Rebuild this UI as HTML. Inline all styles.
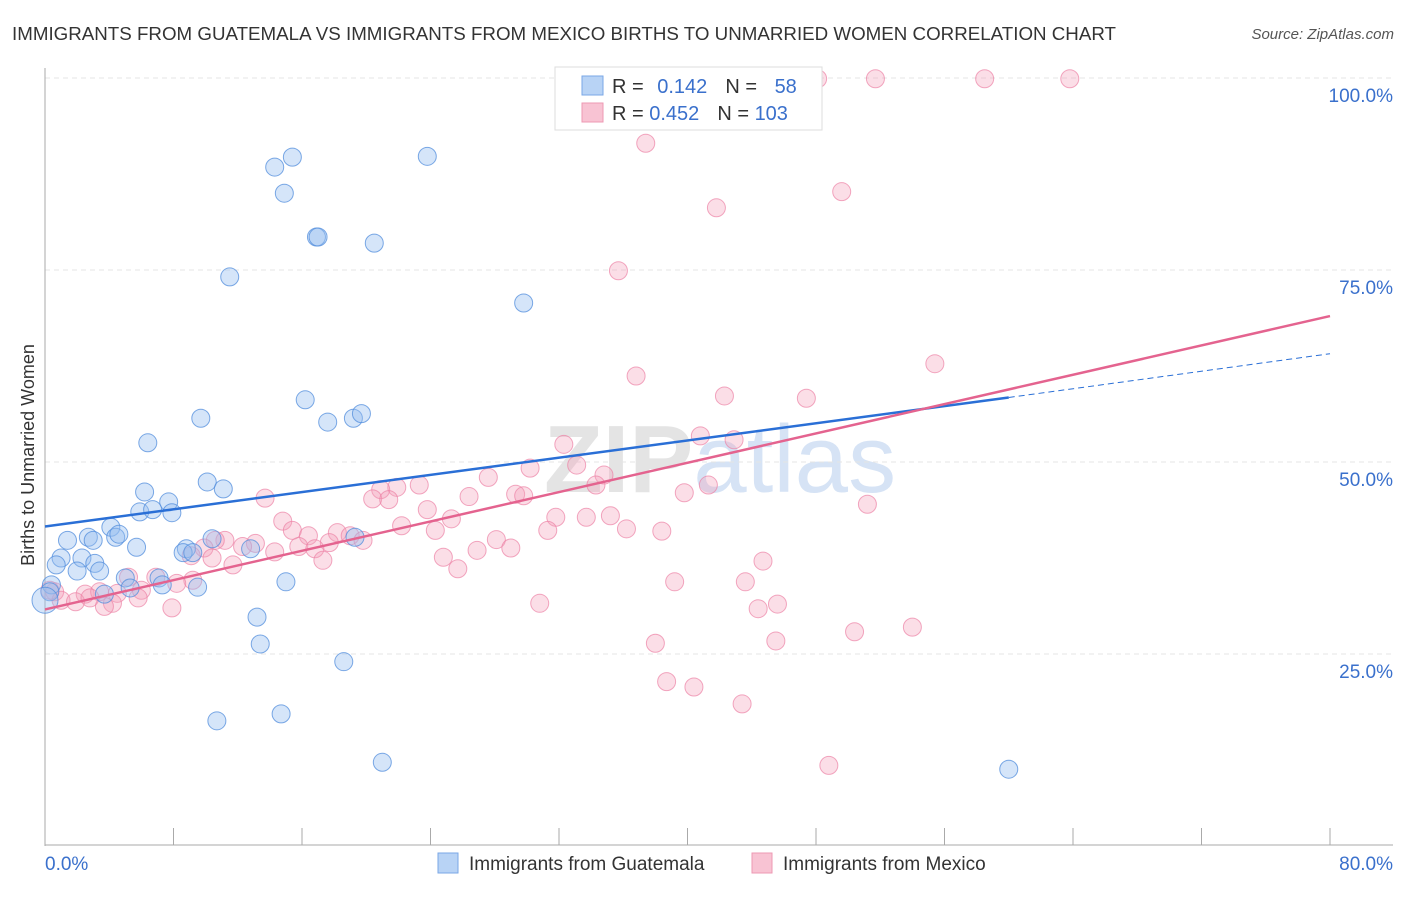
<!DOCTYPE html>
<html><head><meta charset="utf-8"><style>
body{margin:0;background:#fff;font-family:"Liberation Sans",sans-serif;}
svg text{font-family:"Liberation Sans",sans-serif;}
</style></head><body>
<svg id="chart" width="1406" height="892" xmlns="http://www.w3.org/2000/svg">
<text x="12" y="40" font-size="18.5" fill="#333" textLength="1104" lengthAdjust="spacingAndGlyphs">IMMIGRANTS FROM GUATEMALA VS IMMIGRANTS FROM MEXICO BIRTHS TO UNMARRIED WOMEN CORRELATION CHART</text>
<text x="1394" y="39" font-size="15" fill="#555" font-style="italic" text-anchor="end">Source: ZipAtlas.com</text>
<text transform="translate(34,455) rotate(-90)" font-size="18" fill="#333" text-anchor="middle">Births to Unmarried Women</text>
<text x="720" y="492" font-size="96" fill="#e4e4e4" font-weight="bold" text-anchor="middle">ZIP<tspan fill="#d6e3f5" font-weight="normal">atlas</tspan></text>
<g id="grid"></g><g id="pts"></g><g id="lines"></g>
<g>
<rect x="555" y="67" width="267" height="63" fill="#fff" stroke="#ddd"/>
<rect x="582" y="76" width="21" height="19" fill="#b8d3f5" stroke="#7aa7e6"/>
<rect x="582" y="103" width="21" height="19" fill="#f8c3d3" stroke="#ee98b3"/>
<text x="612" y="93" font-size="20" fill="#333">R = <tspan fill="#3a70cc" dx="8">0.142</tspan><tspan fill="#333" dx="18">N = </tspan><tspan fill="#3a70cc" dx="12">58</tspan></text>
<text x="612" y="120" font-size="20" fill="#333">R = <tspan fill="#3a70cc">0.452</tspan><tspan fill="#333" dx="18">N = </tspan><tspan fill="#3a70cc">103</tspan></text>
</g>
<g>
<rect x="438" y="853" width="20" height="20" fill="#b8d3f5" stroke="#7aa7e6"/>
<text x="469" y="870" font-size="19" fill="#333">Immigrants from Guatemala</text>
<rect x="752" y="853" width="20" height="20" fill="#f8c3d3" stroke="#ee98b3"/>
<text x="783" y="870" font-size="19" fill="#333">Immigrants from Mexico</text>
</g>
</svg>
<script>
const guatemalaX=[15.4,14.3,14.9,23.8,16.9,17.0,20.5,11.5,29.8,16.2,9.7,17.6,19.2,19.7,6.4,10.1,11.1,6.2,7.7,5.9,6.7,7.9,4.1,1.4,2.7,4.4,4.6,3.0,5.7,10.4,8.8,8.6,9.2,12.8,1.0,2.3,3.1,0.7,2.0,3.4,5.0,7.1,7.3,9.5,15.0,5.3,0.4,0.3,3.7,0,13.2,13.4,18.6,10.7,14.7,21.0,60.0,19.3];
const guatemalaY=[89.7,88.4,85.0,89.8,79.3,79.3,78.5,74.1,70.7,58.1,55.7,55.2,55.7,56.3,52.5,47.4,46.5,46.1,44.8,43.5,43.8,43.4,41.5,39.8,40.2,40.2,40.6,39.8,38.9,40.0,38.7,38.2,38.2,38.7,37.5,37.5,36.8,36.6,35.8,35.8,34.9,34.9,34.0,33.7,34.4,33.6,34.0,33.1,32.8,32.0,29.8,26.3,24.0,16.3,17.2,10.9,10.0,40.2];
const mexicoX=[48.1,51.7,58.5,63.8,37.4,49.6,41.8,35.7,55.4,36.8,42.3,47.4,32.3,40.8,42.9,33.1,30.2,34.8,27.6,34.3,41.3,39.8,23.3,21.9,20.9,26.4,29.3,29.8,20.4,21.4,13.7,51.2,23.8,25.3,31.8,33.7,35.2,14.8,22.2,24.3,31.3,36.2,38.4,15.4,16.4,18.2,19.0,19.8,17.7,28.1,11.2,10.6,13.1,12.3,15.8,16.8,29.0,14.3,26.9,9.9,9.1,10.4,24.8,17.3,11.7,25.7,44.7,5.2,6.9,9.2,8.2,39.2,43.6,6.0,0.6,2.5,3.4,4.5,1.0,1.9,2.8,4.2,5.8,3.7,7.9,30.8,44.4,45.6,0.3,54.0,50.4,38.0,45.5,38.7,40.4,43.4,48.8];
const mexicoY=[99.9,99.9,99.9,99.9,91.5,85.2,83.1,74.9,62.8,61.2,58.6,58.3,52.3,53.4,52.9,49.6,49.2,48.3,48.0,47.0,47.0,46.0,47.0,46.7,46.4,45.5,45.8,45.6,45.2,45.1,45.3,44.5,43.8,42.6,42.8,42.8,43.0,42.3,41.7,41.1,41.1,41.3,41.0,41.1,40.4,40.8,40.4,39.8,39.5,39.9,39.8,39.8,39.4,39.0,39.0,38.7,38.8,38.3,38.5,38.8,37.8,37.5,37.6,37.2,36.6,36.1,37.1,35.0,35.0,34.6,34.2,34.4,34.4,33.3,33.1,32.8,33.1,32.9,32.0,31.8,32.3,31.6,32.3,31.2,31.0,31.6,30.9,31.5,33.3,28.5,27.9,26.4,26.7,21.4,20.7,18.5,10.5];
const yTicks=[25,50,75,100];
const yTickLabels=["25.0%","50.0%","75.0%","100.0%"];
const xTicksCount=10;
const blueTrend=[[0,41.6],[60,58.4]], blueDash=[[60,58.4],[80,64.1]];
const pinkTrend=[[0,30.8],[80,69.0]];
const NS="http://www.w3.org/2000/svg";
const X=v=>45+v*(1285/80), Y=v=>846-v*7.68;
function mk(t,a,p){const e=document.createElementNS(NS,t);for(const k in a)e.setAttribute(k,a[k]);p.appendChild(e);return e;}
const grid=document.getElementById('grid');
yTicks.forEach((t,i)=>{
 const l=mk('line',{x1:45,x2:1393,y1:Y(t),y2:Y(t),stroke:'#e4e4e4','stroke-dasharray':'5,4'},grid);
 
 
 const tx=mk('text',{x:1393,y:Y(t)+24,'font-size':19,fill:'#3a70cc','text-anchor':'end'},grid);
 tx.textContent=yTickLabels[i];
 
 
});
const ax=mk('line',{x1:45,x2:45,y1:68,y2:846,stroke:'#aaa'},grid);


const bx=mk('line',{x1:45,x2:1393,y1:845,y2:845,stroke:'#aaa'},grid);


for(let i=1;i<=xTicksCount;i++){const xv=X(i*8);const t=mk('line',{x1:xv,x2:xv,y1:828,y2:845,stroke:'#aaa'},grid);
 
 }
const xl0=mk('text',{x:45,y:870,'font-size':19,fill:'#3a70cc'},grid);xl0.textContent='0.0%';


const xl1=mk('text',{x:1393,y:870,'font-size':19,fill:'#3a70cc','text-anchor':'end'},grid);xl1.textContent='80.0%';


const pts=document.getElementById('pts');
mexicoX.forEach((v,i)=>{const c=mk('circle',{cx:X(v),cy:Y(mexicoY[i]),r:9,fill:'rgba(244,160,186,0.35)',stroke:'rgba(236,130,165,0.7)'},pts);
 
 });
guatemalaX.forEach((v,i)=>{const c=mk('circle',{cx:X(v),cy:Y(guatemalaY[i]),r:i==49?13:9,fill:'rgba(150,190,240,0.4)',stroke:'rgba(80,140,220,0.75)'},pts);
 
 });
const lines=document.getElementById('lines');
const b=mk('line',{x1:X(blueTrend[0][0]),y1:Y(blueTrend[0][1]),x2:X(blueTrend[1][0]),y2:Y(blueTrend[1][1]),stroke:'#2a6fd6','stroke-width':2.5},lines);


const bd=mk('line',{x1:X(blueDash[0][0]),y1:Y(blueDash[0][1]),x2:X(blueDash[1][0]),y2:Y(blueDash[1][1]),stroke:'#2a6fd6','stroke-width':1,'stroke-dasharray':'6,4'},lines);


const p=mk('line',{x1:X(pinkTrend[0][0]),y1:Y(pinkTrend[0][1]),x2:X(pinkTrend[1][0]),y2:Y(pinkTrend[1][1]),stroke:'#e4638f','stroke-width':2.5},lines);


</script>
</body></html>
